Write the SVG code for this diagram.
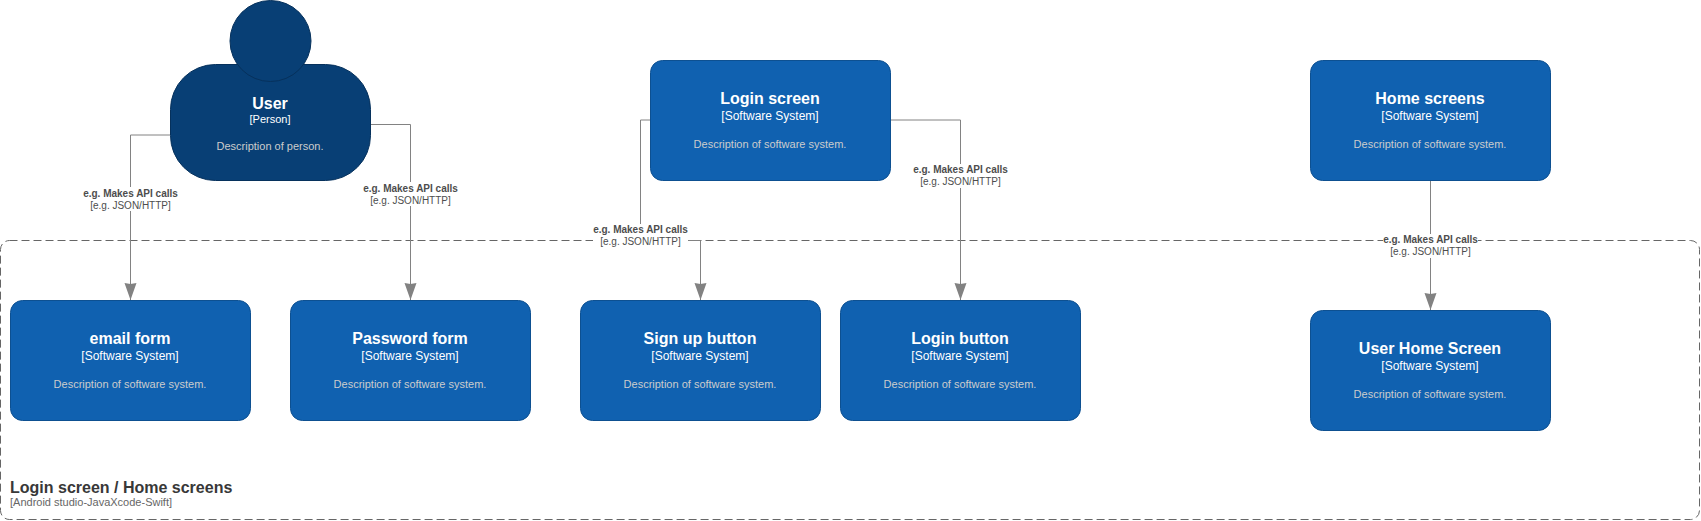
<svg xmlns="http://www.w3.org/2000/svg" width="1701" height="521" viewBox="0 0 1701 521">
<style>
text{font-family:"Liberation Sans",Arial,sans-serif;text-anchor:middle}
.box{fill:#1061B0;stroke:#0D5091;stroke-width:1}
.per{fill:#083F75;stroke:#06315C;stroke-width:1}
.n{font-size:16px;font-weight:bold;fill:#fff}
.t{font-size:12px;fill:#fff}
.d{font-size:11px;fill:#ccc}
.c{fill:none;stroke:#828282;stroke-width:1}
.lb{fill:#fff}
.l1{font-size:10px;font-weight:bold;fill:#4d4d4d}
.l2{font-size:10px;fill:#4d4d4d}
</style>
<defs>
<marker id="arrow" markerUnits="userSpaceOnUse" markerWidth="17" markerHeight="13" refX="17" refY="6.500" orient="auto" viewBox="0 0 17 13"><path d="M0 0.500L17 6.500L0 12.500L1 6.500Z" fill="#828282"/></marker>
</defs>
<g id="container">
<rect x="0.5" y="240.5" width="1699" height="279" rx="9" fill="none" stroke="#666" stroke-width="1" stroke-dasharray="8 4"/>
<text x="10" y="493" style="text-anchor:start;font-size:16px;font-weight:bold;fill:#383838">Login screen / Home screens</text>
<text x="10" y="506" style="text-anchor:start;font-size:11px;fill:#666">[Android studio-JavaXcode-Swift]</text>
</g>
<g id="connectors">
<path class="c" d="M170 135H130.5V300" marker-end="url(#arrow)"/>
<path class="c" d="M371 124.5H410.5V300" marker-end="url(#arrow)"/>
<path class="c" d="M650 120H640.5V240.5H700.5V300" marker-end="url(#arrow)"/>
<path class="c" d="M890 120H960.5V300" marker-end="url(#arrow)"/>
<path class="c" d="M1430.5 180V310" marker-end="url(#arrow)"/>
<rect class="lb" x="83" y="187" width="95" height="24"/>
<text class="l1" x="130.500" y="196.500">e.g. Makes API calls</text><text class="l2" x="130.500" y="208.500">[e.g. JSON/HTTP]</text>
<rect class="lb" x="363" y="182" width="95" height="24"/>
<text class="l1" x="410.500" y="191.500">e.g. Makes API calls</text><text class="l2" x="410.500" y="203.500">[e.g. JSON/HTTP]</text>
<rect class="lb" x="593" y="224" width="95" height="24"/>
<text class="l1" x="640.500" y="233">e.g. Makes API calls</text><text class="l2" x="640.500" y="245">[e.g. JSON/HTTP]</text>
<rect class="lb" x="913" y="164" width="95" height="24"/>
<text class="l1" x="960.500" y="173">e.g. Makes API calls</text><text class="l2" x="960.500" y="185">[e.g. JSON/HTTP]</text>
<rect class="lb" x="1383" y="234" width="95" height="24"/>
<text class="l1" x="1430.500" y="243">e.g. Makes API calls</text><text class="l2" x="1430.500" y="255">[e.g. JSON/HTTP]</text>
</g>
<g id="user">
<rect class="per" x="170.500" y="64.500" width="200" height="116" rx="45"/>
<circle class="per" cx="270.500" cy="41" r="40.500"/>
<text class="n" x="270" y="109">User</text>
<text class="t" x="270" y="123" style="font-size:11px">[Person]</text>
<text class="d" x="270" y="150">Description of person.</text>
</g>
<g id="login-screen">
<rect class="box" x="650.500" y="60.500" width="240" height="120" rx="12"/>
<text class="n" x="770" y="104">Login screen</text><text class="t" x="770" y="120">[Software System]</text><text class="d" x="770" y="148">Description of software system.</text>
</g>
<g id="home-screens">
<rect class="box" x="1310.500" y="60.500" width="240" height="120" rx="12"/>
<text class="n" x="1430" y="104">Home screens</text><text class="t" x="1430" y="120">[Software System]</text><text class="d" x="1430" y="148">Description of software system.</text>
</g>
<g id="email-form">
<rect class="box" x="10.500" y="300.500" width="240" height="120" rx="12"/>
<text class="n" x="130" y="344">email form</text><text class="t" x="130" y="360">[Software System]</text><text class="d" x="130" y="388">Description of software system.</text>
</g>
<g id="password-form">
<rect class="box" x="290.500" y="300.500" width="240" height="120" rx="12"/>
<text class="n" x="410" y="344">Password form</text><text class="t" x="410" y="360">[Software System]</text><text class="d" x="410" y="388">Description of software system.</text>
</g>
<g id="sign-up-button">
<rect class="box" x="580.500" y="300.500" width="240" height="120" rx="12"/>
<text class="n" x="700" y="344">Sign up button</text><text class="t" x="700" y="360">[Software System]</text><text class="d" x="700" y="388">Description of software system.</text>
</g>
<g id="login-button">
<rect class="box" x="840.500" y="300.500" width="240" height="120" rx="12"/>
<text class="n" x="960" y="344">Login button</text><text class="t" x="960" y="360">[Software System]</text><text class="d" x="960" y="388">Description of software system.</text>
</g>
<g id="user-home-screen">
<rect class="box" x="1310.500" y="310.500" width="240" height="120" rx="12"/>
<text class="n" x="1430" y="354">User Home Screen</text><text class="t" x="1430" y="370">[Software System]</text><text class="d" x="1430" y="398">Description of software system.</text>
</g>
</svg>
